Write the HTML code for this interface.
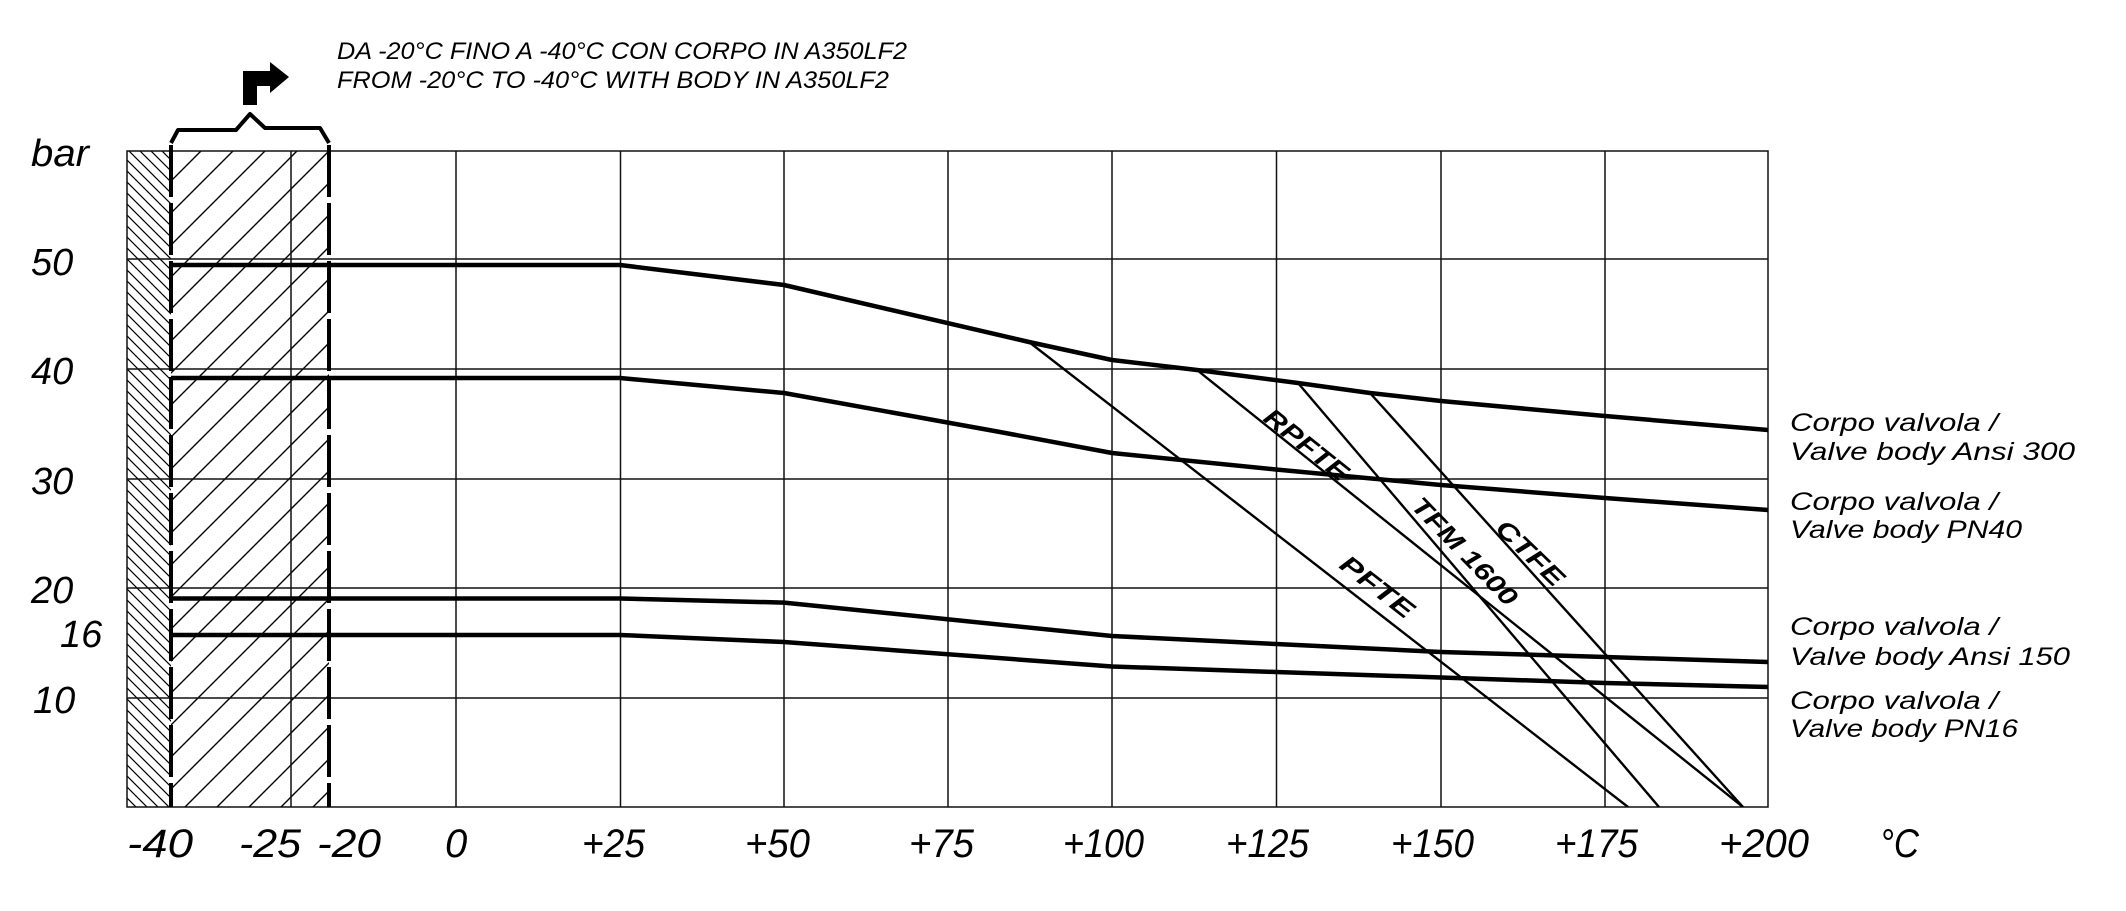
<!DOCTYPE html>
<html><head><meta charset="utf-8"><style>
html,body{margin:0;padding:0;background:#fff;width:2126px;height:911px;overflow:hidden}
svg{display:block}
text{font-family:"Liberation Sans",sans-serif;font-style:italic;fill:#000}
</style></head><body>
<svg width="2126" height="911" viewBox="0 0 2126 911" xmlns="http://www.w3.org/2000/svg">
<defs>
<pattern id="hb" patternUnits="userSpaceOnUse" width="11" height="11">
<path d="M-1,-1 L12,12 M-12,-1 L1,12 M10,-1 L23,12" stroke="#000" stroke-width="1.2"/>
</pattern>
<pattern id="hf" patternUnits="userSpaceOnUse" width="32" height="32">
<path d="M-1,33 L33,-1 M-33,33 L1,-1 M31,33 L65,-1" stroke="#000" stroke-width="1.4"/>
</pattern>
<clipPath id="plot"><rect x="127" y="151" width="1641" height="656"/></clipPath>
</defs>
<rect x="127" y="151" width="44" height="656" fill="url(#hb)"/>
<rect x="171" y="151" width="158" height="656" fill="url(#hf)"/>
<g stroke="#111" stroke-width="1.5" fill="none">
<rect x="127" y="151" width="1641" height="656"/>
<path d="M127,259H1768 M127,369H1768 M127,479H1768 M127,588H1768 M127,698H1768"/>
<path d="M291,151V807 M456,151V807 M620.5,151V807 M784,151V807 M948,151V807 M1112,151V807 M1276.5,151V807 M1441,151V807 M1605,151V807"/>
</g>
<g stroke="#000" stroke-width="4" stroke-dasharray="52 6">
<path d="M171,145V807"/><path d="M329,145V807"/>
</g>
<path d="M171,143 L178,130 L236,130 L250,114 L265,128 L320,128 L329,143" fill="none" stroke="#000" stroke-width="4" stroke-linejoin="round"/>
<path d="M243,105 L257,105 L257,86 L270,86 L270,93 L289,77 L270,62 L270,71 L243,71 Z" fill="#000"/>
<g stroke="#000" stroke-width="2.4" fill="none" clip-path="url(#plot)">
<path d="M1029,342 L1628,807"/>
<path d="M1197,370 L1743,807"/>
<path d="M1298,383 L1659,807"/>
<path d="M1370,393 L1743,807"/>
</g>
<g stroke="#000" stroke-width="4.5" fill="none" stroke-linejoin="round">
<path d="M171,265 L620,265 L784,285 L1029,342 L1112,360 L1197,370 L1298,383 L1370,393 L1441,401 L1605,416 L1768,430"/>
<path d="M171,378 L620,378 L784,393 L1000,432 L1112,453 L1276,469.5 L1441,485 L1605,498 L1768,510"/>
<path d="M171,598.5 L620,598.5 L784,602.6 L1112,636 L1276,644 L1441,652 L1605,657 L1768,662"/>
<path d="M171,635 L620,635 L784,642 L1112,666.5 L1276,672 L1441,677.5 L1605,683 L1768,687"/>
</g>
<g style="font-style:normal;font-weight:bold" font-size="25">
<text transform="translate(1262,420) rotate(38.7)" textLength="100" lengthAdjust="spacingAndGlyphs">RPFTE</text>
<text transform="translate(1410,507) rotate(46)" textLength="140" lengthAdjust="spacingAndGlyphs">TFM 1600</text>
<text transform="translate(1494,530) rotate(44)" textLength="84" lengthAdjust="spacingAndGlyphs">CTFE</text>
<text transform="translate(1338,567) rotate(38)" textLength="86" lengthAdjust="spacingAndGlyphs">PFTE</text>
</g>
<g font-size="24">
<text x="337" y="59" textLength="570" lengthAdjust="spacingAndGlyphs">DA -20°C FINO A -40°C CON CORPO IN A350LF2</text>
<text x="337" y="88" textLength="552" lengthAdjust="spacingAndGlyphs">FROM -20°C TO -40°C WITH BODY IN A350LF2</text>
</g>
<g font-size="38">
<text x="31" y="166" textLength="58" lengthAdjust="spacingAndGlyphs">bar</text>
<text x="31" y="275">50</text>
<text x="31" y="384">40</text>
<text x="31" y="494">30</text>
<text x="31" y="603">20</text>
<text x="60" y="647">16</text>
<text x="33" y="713">10</text>
</g>
<g font-size="40">
<text x="127" y="857" textLength="66" lengthAdjust="spacingAndGlyphs">-40</text>
<text x="239" y="857" textLength="62" lengthAdjust="spacingAndGlyphs">-25</text>
<text x="317" y="857" textLength="64" lengthAdjust="spacingAndGlyphs">-20</text>
<text x="445" y="857">0</text>
<text x="582" y="857" textLength="63" lengthAdjust="spacingAndGlyphs">+25</text>
<text x="745" y="857" textLength="65" lengthAdjust="spacingAndGlyphs">+50</text>
<text x="909" y="857" textLength="65" lengthAdjust="spacingAndGlyphs">+75</text>
<text x="1063" y="857" textLength="81" lengthAdjust="spacingAndGlyphs">+100</text>
<text x="1226" y="857" textLength="83" lengthAdjust="spacingAndGlyphs">+125</text>
<text x="1391" y="857" textLength="83" lengthAdjust="spacingAndGlyphs">+150</text>
<text x="1555" y="857" textLength="83" lengthAdjust="spacingAndGlyphs">+175</text>
<text x="1719" y="857" textLength="90" lengthAdjust="spacingAndGlyphs">+200</text>
<text x="1880" y="857" textLength="39" lengthAdjust="spacingAndGlyphs">°C</text>
</g>
<g font-size="25">
<text x="1790" y="431" textLength="208" lengthAdjust="spacingAndGlyphs">Corpo valvola /</text>
<text x="1790" y="460" textLength="285" lengthAdjust="spacingAndGlyphs">Valve body Ansi 300</text>
<text x="1790" y="510" textLength="208" lengthAdjust="spacingAndGlyphs">Corpo valvola /</text>
<text x="1790" y="538" textLength="232" lengthAdjust="spacingAndGlyphs">Valve body PN40</text>
<text x="1790" y="635" textLength="208" lengthAdjust="spacingAndGlyphs">Corpo valvola /</text>
<text x="1790" y="665" textLength="280" lengthAdjust="spacingAndGlyphs">Valve body Ansi 150</text>
<text x="1790" y="709" textLength="208" lengthAdjust="spacingAndGlyphs">Corpo valvola /</text>
<text x="1790" y="737" textLength="228" lengthAdjust="spacingAndGlyphs">Valve body PN16</text>
</g>
</svg>
</body></html>
